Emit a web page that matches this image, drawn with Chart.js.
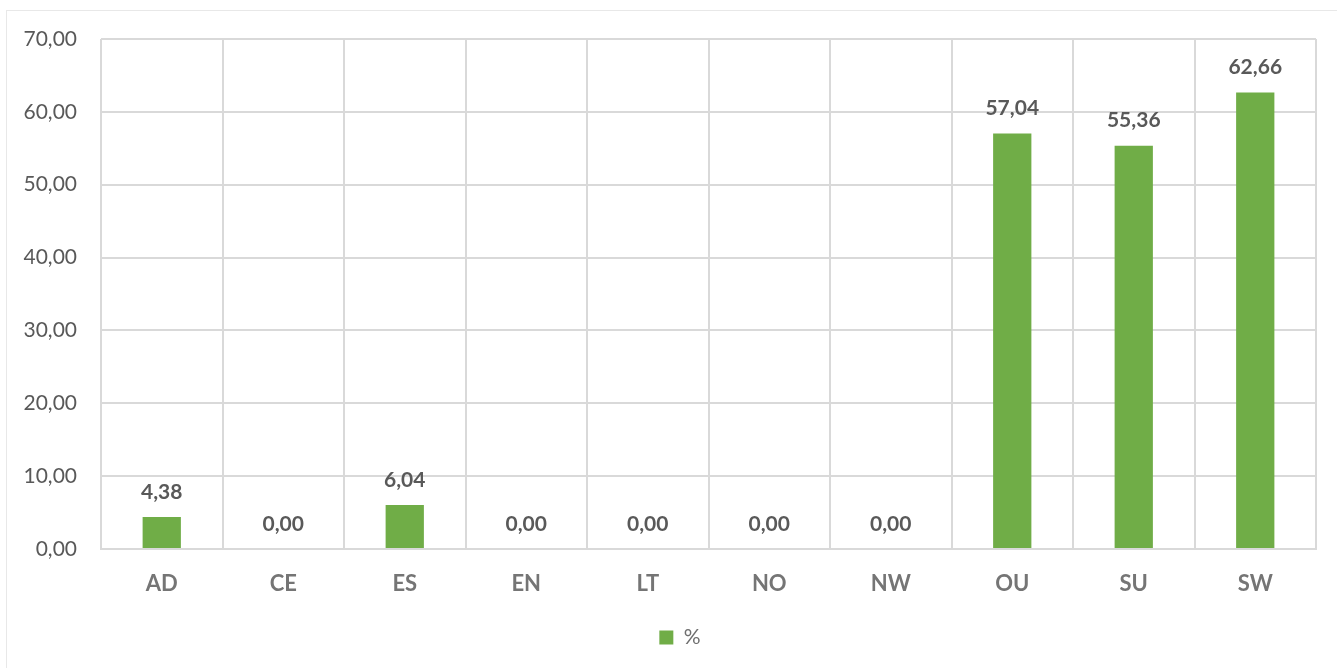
<!DOCTYPE html>
<html>
<head>
<meta charset="utf-8">
<script src="https://cdn.jsdelivr.net/npm/chart.js@4.4.1/dist/chart.umd.min.js"></script>
<style>
  html, body { margin: 0; padding: 0; background: #ffffff; }
  #frame {
    position: absolute; left: 6px; top: 10px; width: 1340px; height: 670px;
    border-top: 1px solid #e8e8e8; border-left: 1px solid #e8e8e8;
  }
  #wrap { position: absolute; left: 0; top: 0; width: 1337px; height: 668px; }
</style>
</head>
<body>
<div id="frame"></div>
<div id="wrap"><canvas id="chart"></canvas></div>
<script>
// Regions and their share (%)
const categories = ['AD', 'CE', 'ES', 'EN', 'LT', 'NO', 'NW', 'OU', 'SU', 'SW'];
const percentValues = [4.38, 0.00, 6.04, 0.00, 0.00, 0.00, 0.00, 57.04, 55.36, 62.66];
const seriesName = '%';

const fmt = v => v.toFixed(2).replace('.', ',');

// Value labels drawn above each bar
const valueLabels = {
  id: 'valueLabels',
  afterDatasetsDraw(chart) {
    const ctx = chart.ctx;
    const meta = chart.getDatasetMeta(0);
    ctx.save();
    ctx.font = 'bold 21px Lato';
    ctx.fillStyle = '#595959';
    ctx.textAlign = 'center';
    ctx.textBaseline = 'middle';
    meta.data.forEach((bar, i) => {
      ctx.fillText(fmt(percentValues[i]), bar.x, bar.y - 25);
    });
    ctx.restore();
  }
};

new Chart(document.getElementById('chart'), {
  type: 'bar',
  data: {
    labels: categories,
    datasets: [{
      label: seriesName,
      data: percentValues,
      backgroundColor: '#70AD47',
      borderWidth: 0,
      categoryPercentage: 1.0,
      barPercentage: 0.315
    }]
  },
  options: {
    responsive: true,
    maintainAspectRatio: false,
    animation: false,
    layout: { padding: { top: 39, right: 21, left: 44, bottom: 10 } },
    plugins: {
      legend: {
        position: 'bottom',
        labels: {
          boxWidth: 14, boxHeight: 14, padding: 8,
          color: '#6e6e6e',
          font: { family: 'Lato', size: 21 }
        }
      },
      tooltip: { enabled: false }
    },
    scales: {
      x: {
        grid: { color: '#d9d9d9', lineWidth: 2, drawTicks: false, offset: true },
        border: { color: '#d9d9d9', width: 2 },
        ticks: {
          color: '#757575', padding: 22,
          font: { family: 'Lato', size: 22, weight: 'bold' }
        },
        afterFit(scale) { scale.height = 70; }
      },
      y: {
        min: 0, max: 70,
        grid: { color: '#d9d9d9', lineWidth: 2, drawTicks: false },
        border: { display: false },
        ticks: {
          stepSize: 10, color: '#595959', padding: 24,
          font: { family: 'Lato', size: 21 },
          callback: v => fmt(v)
        },
        afterFit(scale) {
          scale.width = 57;
          // tick labels extend into the left padding, so don't clip them to the axis box
          scale._computeLabelArea = () => undefined;
        }
      }
    }
  },
  plugins: [valueLabels]
});
</script>
</body>
</html>
